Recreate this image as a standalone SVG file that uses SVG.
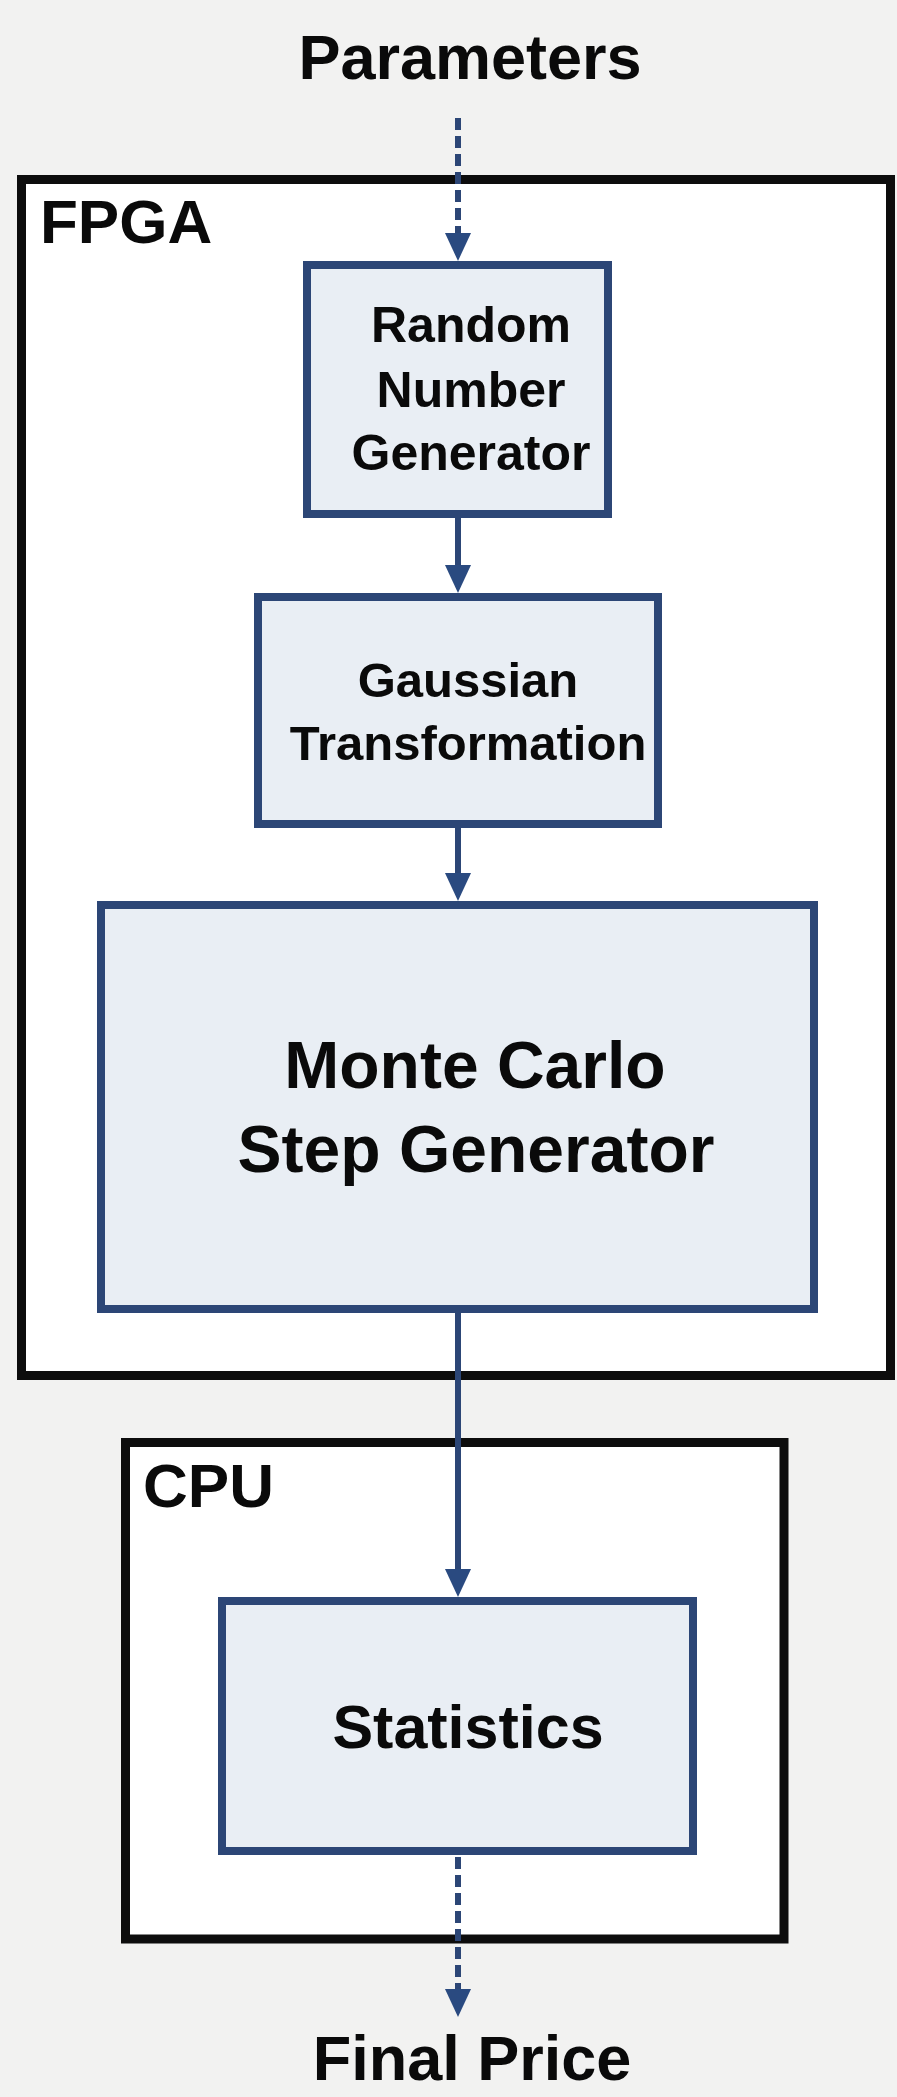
<svg xmlns="http://www.w3.org/2000/svg" width="897" height="2097" viewBox="0 0 897 2097">
  <style>
    .bg { fill: #f2f2f1; }
    .region { fill: #ffffff; stroke: #0d0d0d; stroke-width: 9; }
    .block { fill: #e9eef4; stroke: #2c4676; stroke-width: 8; }
    .label { font-family: "Liberation Sans", Arial, sans-serif; font-weight: bold; fill: #0a0a0a; }
    .region-title { font-size: 62px; }
    .io { font-size: 63px; text-anchor: middle; }
    .t50 { font-size: 50px; text-anchor: middle; }
    .t49 { font-size: 49px; text-anchor: middle; }
    .t66 { font-size: 66px; text-anchor: middle; }
    .t61 { font-size: 61px; text-anchor: middle; }
    .flow { stroke: #2c4676; stroke-width: 6; fill: none; marker-end: url(#head); }
    .dashed { stroke-dasharray: 12 6; }
  </style>
  <defs>
    <marker id="head" viewBox="0 0 28 28" markerWidth="28" markerHeight="28" refX="0" refY="14" orient="auto" markerUnits="userSpaceOnUse">
      <path d="M0,1 L28,14 L0,27 z" fill="#2a4a80"/>
    </marker>
  </defs>

  <rect class="bg" x="0" y="0" width="897" height="2097"/>

  <!-- FPGA region -->
  <g id="fpga">
    <rect class="region" x="21.5" y="179.5" width="869" height="1196"/>
    <text class="label region-title" x="40" y="243">FPGA</text>
  </g>

  <!-- CPU region -->
  <g id="cpu">
    <rect class="region" x="125.5" y="1442.5" width="658.5" height="496.5"/>
    <text class="label region-title" x="143" y="1507">CPU</text>
  </g>

  <!-- external input / output labels -->
  <g id="parameters">
    <text class="label io" x="470" y="79">Parameters</text>
  </g>
  <g id="final-price">
    <text class="label io" x="472" y="2080">Final Price</text>
  </g>

  <!-- processing blocks -->
  <g id="rng">
    <rect class="block" x="307" y="265" width="301" height="249"/>
    <text class="label t50" x="471" y="342">Random</text>
    <text class="label t50" x="471" y="407">Number</text>
    <text class="label t50" x="471" y="470">Generator</text>
  </g>

  <g id="gaussian">
    <rect class="block" x="258" y="597" width="400" height="227"/>
    <text class="label t49" x="468" y="697">Gaussian</text>
    <text class="label t49" x="468" y="760">Transformation</text>
  </g>

  <g id="monte-carlo">
    <rect class="block" x="101" y="905" width="713" height="404"/>
    <text class="label t66" x="475" y="1088">Monte Carlo</text>
    <text class="label t66" x="476" y="1172">Step Generator</text>
  </g>

  <g id="statistics">
    <rect class="block" x="222" y="1601" width="471" height="250"/>
    <text class="label t61" x="468" y="1748">Statistics</text>
  </g>

  <!-- connectors -->
  <g id="connectors">
    <line class="flow dashed" x1="458" y1="118" x2="458" y2="233"/>
    <line class="flow" x1="458" y1="518" x2="458" y2="565"/>
    <line class="flow" x1="458" y1="828" x2="458" y2="873"/>
    <line class="flow" x1="458" y1="1313" x2="458" y2="1569"/>
    <line class="flow dashed" x1="458" y1="1857" x2="458" y2="1989"/>
  </g>
</svg>
